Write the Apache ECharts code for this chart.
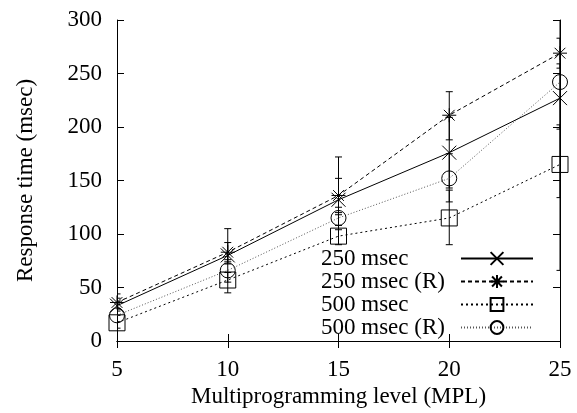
<!DOCTYPE html>
<html>
<head>
<meta charset="utf-8">
<script src="https://cdn.jsdelivr.net/npm/echarts@6/dist/echarts.min.js"></script>
<style>
  html, body { margin: 0; padding: 0; background: #fff; }
  #chart { width: 577px; height: 413px; }
</style>
</head>
<body>
<div id="chart"></div>
<script>
  // x: multiprogramming level
  var mpl = [5, 10, 15, 20, 25];
  // response times (msec)
  var rt250 = [33, 80, 132, 176, 227];
  var rt250R = [36, 83, 136, 211, 269];
  var rt500 = [17, 57, 98, 115, 165];
  var rt500R = [24, 66, 115, 152, 242];
  // error bar ranges
  var lo250 = [28, 72, 120, 143, 198];
  var hi250 = [40, 92, 152, 209, 259];
  var lo250R = [30, 74, 118, 188, 255];
  var hi250R = [44, 105, 172, 233, 283];
  var lo500 = [12, 45, 90, 90, 134];
  var hi500 = [24, 64, 108, 141, 202];
  var lo500R = [18, 55, 104, 130, 66];
  var hi500R = [30, 76, 125, 175, 320];

  var names = ['250 msec', '250 msec (R)', '500 msec', '500 msec (R)'];

  var crossPath = 'path://M0,0L10,10M10,0L0,10';
  var starPath = 'path://M0,0L10,10M10,0L0,10M5,-1.5L5,11.5M-1.5,5L11.5,5';
  var squarePath = 'path://M0,0L10,0L10,10L0,10Z';
  var circlePath = 'path://M10,5A5,5,0,1,1,0,5A5,5,0,1,1,10,5Z';

  function pairs(ys) {
    return mpl.map(function (x, i) { return [x, ys[i]]; });
  }
  function errData(lo, hi) {
    return mpl.map(function (x, i) { return [x, lo[i], hi[i]]; });
  }
  function errSeries(lo, hi) {
    return {
      type: 'custom',
      clip: true,
      silent: true,
      z: 1,
      data: errData(lo, hi),
      renderItem: function (params, api) {
        var p1 = api.coord([api.value(0), api.value(1)]);
        var p2 = api.coord([api.value(0), api.value(2)]);
        var w = 3.5;
        var st = { stroke: '#000', lineWidth: 1 };
        return {
          type: 'group',
          children: [
            { type: 'line', shape: { x1: p1[0], y1: p1[1], x2: p2[0], y2: p2[1] }, style: st },
            { type: 'line', shape: { x1: p1[0] - w, y1: p1[1], x2: p1[0] + w, y2: p1[1] }, style: st },
            { type: 'line', shape: { x1: p2[0] - w, y1: p2[1], x2: p2[0] + w, y2: p2[1] }, style: st }
          ]
        };
      }
    };
  }

  var font = 'Liberation Serif';
  var fs = 23;
  var chart = echarts.init(document.getElementById('chart'), null, { renderer: 'canvas' });

  var option = {
    animation: false,
    backgroundColor: '#fff',
    textStyle: { fontFamily: font },
    grid: { left: 117, right: 17, top: 20, bottom: 72, outerBoundsMode: 'none' },
    legend: [{
      // text column
      orient: 'vertical',
      left: 316,
      top: 247,
      padding: 0,
      align: 'left',
      icon: 'none',
      itemWidth: 0,
      itemHeight: 16,
      itemGap: 0,
      data: names,
      textStyle: { fontFamily: font, fontSize: fs, color: '#000' }
    }, {
      // sample column
      orient: 'vertical',
      left: 460,
      top: 247,
      padding: 0,
      itemWidth: 72,
      itemHeight: 16,
      itemGap: 0,
      data: names,
      formatter: function () { return ' '; },
      textStyle: { fontFamily: font, fontSize: fs, color: '#000' }
    }],
    xAxis: [{
      type: 'value',
      min: 5, max: 25, interval: 5,
      name: 'Multiprogramming level (MPL)',
      nameLocation: 'middle',
      nameGap: 43,
      nameTextStyle: { fontFamily: font, fontSize: fs, color: '#000' },
      axisLine: { lineStyle: { color: '#000', width: 1 } },
      axisTick: { inside: true, length: 7, lineStyle: { color: '#000' } },
      axisLabel: { fontFamily: font, fontSize: fs, color: '#000', margin: 17 },
      splitLine: { show: false }
    }, {
      type: 'value',
      position: 'top',
      min: 5, max: 25, interval: 5,
      axisLine: { lineStyle: { color: '#000', width: 1 } },
      axisTick: { inside: true, length: 7, lineStyle: { color: '#000' } },
      axisLabel: { show: false },
      splitLine: { show: false }
    }],
    yAxis: [{
      type: 'value',
      min: 0, max: 300, interval: 50,
      name: 'Response time (msec)',
      nameLocation: 'middle',
      nameGap: 80,
      nameTextStyle: { fontFamily: font, fontSize: fs, color: '#000' },
      axisLine: { show: true, lineStyle: { color: '#000', width: 1 } },
      axisTick: { show: true, inside: true, length: 7, lineStyle: { color: '#000' } },
      axisLabel: { fontFamily: font, fontSize: fs, color: '#000', margin: 15 },
      splitLine: { show: false }
    }, {
      type: 'value',
      position: 'right',
      min: 0, max: 300, interval: 50,
      axisLine: { show: true, lineStyle: { color: '#000', width: 1 } },
      axisTick: { show: true, inside: true, length: 7, lineStyle: { color: '#000' } },
      axisLabel: { show: false },
      splitLine: { show: false }
    }],
    series: [
      errSeries(lo250, hi250),
      errSeries(lo250R, hi250R),
      errSeries(lo500, hi500),
      errSeries(lo500R, hi500R),
      {
        name: names[0], type: 'line', data: pairs(rt250), z: 3,
        symbol: crossPath, symbolSize: 14,
        lineStyle: { color: '#000', width: 1, type: 'solid' },
        itemStyle: { color: 'transparent', borderColor: '#000', borderWidth: 1 }
      },
      {
        name: names[1], type: 'line', data: pairs(rt250R), z: 3,
        symbol: starPath, symbolSize: 14,
        lineStyle: { color: '#000', width: 1, type: [4, 3] },
        itemStyle: { color: 'transparent', borderColor: '#000', borderWidth: 1 }
      },
      {
        name: names[2], type: 'line', data: pairs(rt500), z: 3,
        symbol: squarePath, symbolSize: 16,
        lineStyle: { color: '#000', width: 1, type: [2, 3] },
        itemStyle: { color: 'transparent', borderColor: '#000', borderWidth: 1 }
      },
      {
        name: names[3], type: 'line', data: pairs(rt500R), z: 3,
        symbol: circlePath, symbolSize: 15,
        lineStyle: { color: '#555', width: 1, type: [1, 2] },
        itemStyle: { color: 'transparent', borderColor: '#000', borderWidth: 1 }
      }
    ]
  };

  chart.setOption(option);
</script>
</body>
</html>
